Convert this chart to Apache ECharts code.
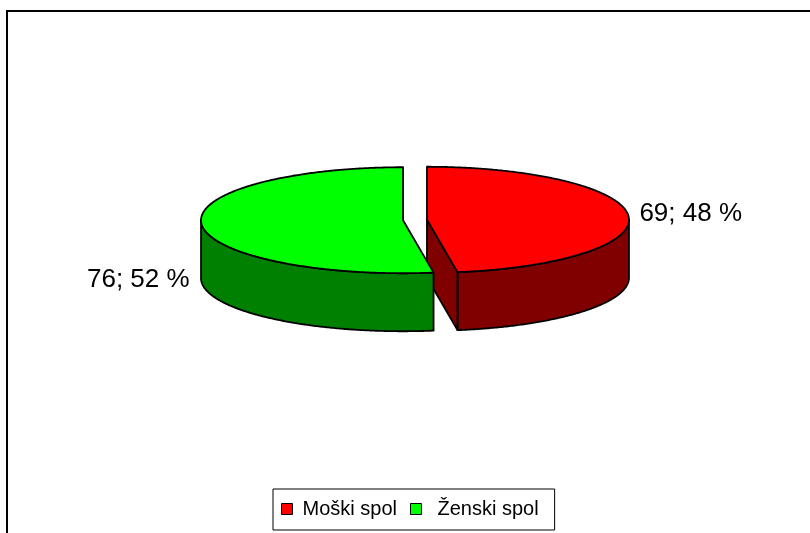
<!DOCTYPE html>
<html>
<head>
<meta charset="utf-8">
<script src="https://cdn.jsdelivr.net/npm/echarts@6/dist/echarts.min.js"></script>
<style>
  html, body { margin: 0; padding: 0; background: #fff; }
  #main { width: 810px; height: 533px; }
</style>
</head>
<body>
<div id="main"></div>
<script>
// podaci
var kategorije = ['Moški spol', 'Ženski spol'];
var vrijednosti = [69, 76];

var topColors = ['#FF0000', '#00FF00'];
var sideColors = ['#800000', '#008000'];

// 3D pie layout
var CX = 415, CY = 220, RX = 202, RY = 53, DEPTH = 58, EXPLODE = 12;
var FONT = 'Liberation Sans, Arial, sans-serif';

var total = vrijednosti.reduce(function (a, b) { return a + b; }, 0);

function rad(a) { return a * Math.PI / 180; }

function arcPts(cx, cy, from, to, dy) {
    var pts = [];
    var n = Math.max(2, Math.ceil(Math.abs(to - from) * 2));
    for (var k = 0; k <= n; k++) {
        var a = rad(from + (to - from) * k / n);
        pts.push([cx + RX * Math.cos(a), cy + dy - RY * Math.sin(a)]);
    }
    return pts;
}

function makeRender(i) {
    return function (params, api) {
        var v = api.value(0);
        var cum = 0;
        for (var j = 0; j < i; j++) cum += vrijednosti[j];
        var a0 = 90 - 360 * cum / total;
        var a1 = a0 - 360 * v / total;
        var mid = (a0 + a1) / 2;
        var cx = CX + EXPLODE * Math.cos(rad(mid));
        var cy = CY - EXPLODE * Math.sin(rad(mid)) * RY / RX;
        var line = { stroke: '#000', lineWidth: 1.8, lineJoin: 'round' };
        var children = [];

        // outer wall (front half only)
        for (var k = -2; k <= 1; k++) {
            var lo = Math.max(a1, -180 + 360 * k);
            var hi = Math.min(a0, 360 * k);
            if (hi > lo) {
                var pts = arcPts(cx, cy, hi, lo, 0).concat(arcPts(cx, cy, lo, hi, DEPTH));
                children.push({
                    type: 'polygon',
                    shape: { points: pts },
                    style: Object.assign({ fill: sideColors[i] }, line)
                });
            }
        }

        // cut faces
        [[a0, a0 + 90], [a1, a1 - 90]].forEach(function (f) {
            if (Math.sin(rad(f[1])) < -1e-6) {
                var ra = rad(f[0]);
                var rx = cx + RX * Math.cos(ra), ry = cy - RY * Math.sin(ra);
                children.push({
                    type: 'polygon',
                    shape: { points: [[cx, cy], [rx, ry], [rx, ry + DEPTH], [cx, cy + DEPTH]] },
                    style: Object.assign({ fill: sideColors[i] }, line)
                });
            }
        });

        // top
        children.push({
            type: 'polygon',
            shape: { points: [[cx, cy]].concat(arcPts(cx, cy, a0, a1, 0)) },
            style: Object.assign({ fill: topColors[i] }, line)
        });

        // label
        var ca = Math.cos(rad(mid)), sa = Math.sin(rad(mid));
        var lx = cx + RX * ca, ly = cy - RY * sa;
        var right = ca >= 0;
        var pct = Math.round(v / total * 100);
        children.push({
            type: 'text',
            x: lx + (right ? 11 : -12),
            y: ly + (sa < 0 ? DEPTH : 0) - 2,
            style: {
                text: v + '; ' + pct + ' %',
                fill: '#000',
                fontSize: 26,
                fontFamily: FONT,
                align: right ? 'left' : 'right',
                verticalAlign: 'middle'
            }
        });

        return { type: 'group', children: children };
    };
}

var myChart = echarts.init(document.getElementById('main'));

var option = {
    animation: false,
    color: topColors,
    graphic: [{
        type: 'rect',
        z: -10,
        shape: { x: 7, y: 11, width: 900, height: 600 },
        style: { fill: 'none', stroke: '#000', lineWidth: 2 }
    }],
    legend: {
        left: 273,
        top: 489,
        orient: 'horizontal',
        icon: 'rect',
        itemWidth: 11,
        itemHeight: 11,
        itemGap: 13,
        padding: [10, 16, 11, 8],
        borderColor: '#000',
        borderWidth: 1,
        backgroundColor: '#fff',
        itemStyle: { borderColor: '#000', borderWidth: 1 },
        textStyle: { color: '#000', fontSize: 20, fontFamily: FONT },
        data: [
            { name: kategorije[0], textStyle: { padding: [0, 0, 0, 5] } },
            { name: kategorije[1], textStyle: { padding: [0, 0, 0, 11] } }
        ]
    },
    series: kategorije.map(function (name, i) {
        return {
            type: 'custom',
            name: name,
            coordinateSystem: 'none',
            itemStyle: { color: topColors[i] },
            renderItem: makeRender(i),
            data: [vrijednosti[i]]
        };
    })
};

myChart.setOption(option);
</script>
</body>
</html>
